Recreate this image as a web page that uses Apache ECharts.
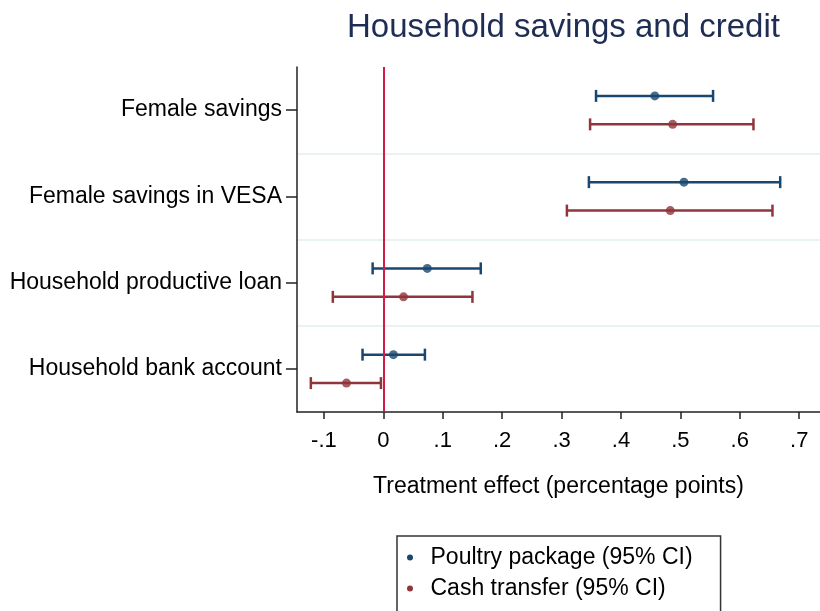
<!DOCTYPE html>
<html>
<head>
<meta charset="utf-8">
<script src="https://cdn.jsdelivr.net/npm/echarts@6/dist/echarts.min.js"></script>
<style>
  html, body { margin: 0; padding: 0; background: #fff; }
  #chart { width: 820px; height: 611px; }
</style>
</head>
<body>
<div id="chart"></div>
<script>
// rows, top to bottom
var categories = ['Female savings', 'Female savings in VESA', 'Household productive loan', 'Household bank account'];

// Poultry package: estimate and 95% CI
var poultryEst = [0.457, 0.506, 0.074, 0.017];
var poultryLo = [0.358, 0.346, -0.018, -0.035];
var poultryHi = [0.555, 0.668, 0.164, 0.070];

// Cash transfer: estimate and 95% CI
var cashEst = [0.487, 0.483, 0.034, -0.062];
var cashLo = [0.348, 0.309, -0.085, -0.122];
var cashHi = [0.623, 0.655, 0.150, -0.004];

var xTickValues = [-0.1, 0, 0.1, 0.2, 0.3, 0.4, 0.5, 0.6, 0.7];
var xTickLabels = ['-.1', '0', '.1', '.2', '.3', '.4', '.5', '.6', '.7'];

var seriesNames = ['Poultry package (95% CI)', 'Cash transfer (95% CI)'];

var FONT = '"Liberation Sans", Arial, sans-serif';
var NAVY = '#1a476f';
var MAROON = '#90353b';
var OFFSET = 0.165; // vertical shift of the two estimates inside a row

var n = categories.length;
// row i (from top) sits at value n - i on the hidden value axis
function rowY(i) { return n - i; }

function barData(lo, hi, shift) {
    return lo.map(function (v, i) { return [v, hi[i], rowY(i) + shift]; });
}
function pointData(est, shift) {
    return est.map(function (v, i) { return [v, rowY(i) + shift]; });
}

function renderBar(params, api) {
    var a = api.coord([api.value(0), api.value(2)]);
    var b = api.coord([api.value(1), api.value(2)]);
    var cap = 6;
    var style = { stroke: api.visual('color'), lineWidth: 2.5 };
    return {
        type: 'group',
        children: [
            { type: 'line', shape: { x1: a[0], y1: a[1], x2: b[0], y2: b[1] }, style: style },
            { type: 'line', shape: { x1: a[0], y1: a[1] - cap, x2: a[0], y2: a[1] + cap }, style: style },
            { type: 'line', shape: { x1: b[0], y1: b[1] - cap, x2: b[0], y2: b[1] + cap }, style: style }
        ]
    };
}

var myChart = echarts.init(document.getElementById('chart'));

var options = {
    animation: false,
    textStyle: { fontFamily: FONT },
    title: {
        text: 'Household savings and credit',
        left: 342,
        top: 6,
        textStyle: { fontFamily: FONT, fontSize: 33, fontWeight: 'normal', color: '#1e2d53' }
    },
    legend: {
        data: seriesNames,
        orient: 'vertical',
        left: 397,
        top: 536,
        height: 90,
        // bottom padding pushes the lower border below the page edge, as in the original
        padding: [10, 28, 30, 10],
        itemGap: 8,
        itemWidth: 7,
        itemHeight: 6,
        icon: 'circle',
        borderColor: '#333',
        borderWidth: 1.5,
        textStyle: { fontFamily: FONT, fontSize: 23, color: '#000', padding: [0, 0, 0, 12] }
    },
    grid: {
        left: 297,
        right: 0,
        top: 67,
        bottom: 199
    },
    xAxis: {
        type: 'value',
        min: -0.1453,
        max: 0.735,
        name: 'Treatment effect (percentage points)',
        nameLocation: 'middle',
        nameGap: 63,
        nameTextStyle: { fontFamily: FONT, fontSize: 23, color: '#000' },
        axisLine: { show: true, onZero: false, lineStyle: { color: '#222', width: 1.5 } },
        axisTick: { show: true, length: 7, customValues: xTickValues, lineStyle: { color: '#222', width: 1.5 } },
        axisLabel: {
            customValues: xTickValues,
            margin: 18,
            fontSize: 22,
            color: '#000',
            formatter: function (v) {
                for (var i = 0; i < xTickValues.length; i++) {
                    if (Math.abs(xTickValues[i] - v) < 1e-6) return xTickLabels[i];
                }
                return '';
            }
        },
        splitLine: { show: false }
    },
    yAxis: [
        {
            // labels, ticks and row separators
            type: 'category',
            data: categories.slice().reverse(),
            boundaryGap: true,
            axisLine: { show: true, onZero: false, lineStyle: { color: '#222', width: 1.5 } },
            axisTick: { show: true, alignWithLabel: true, length: 11, lineStyle: { color: '#222', width: 1.5 } },
            axisLabel: { margin: 15, fontSize: 23, color: '#000' },
            splitLine: { show: true, showMinLine: false, showMaxLine: false, lineStyle: { color: '#eaf2f3', width: 2 } }
        },
        {
            // hidden scale the marks are placed on
            type: 'value',
            min: 0.5,
            max: n + 0.5,
            show: false
        }
    ],
    series: [
        {
            name: seriesNames[0],
            type: 'custom',
            yAxisIndex: 1,
            z: 2,
            itemStyle: { color: NAVY },
            renderItem: renderBar,
            encode: { x: [0, 1], y: 2 },
            data: barData(poultryLo, poultryHi, OFFSET)
        },
        {
            name: seriesNames[1],
            type: 'custom',
            yAxisIndex: 1,
            z: 2,
            itemStyle: { color: MAROON },
            renderItem: renderBar,
            encode: { x: [0, 1], y: 2 },
            data: barData(cashLo, cashHi, -OFFSET)
        },
        {
            name: seriesNames[0],
            type: 'scatter',
            yAxisIndex: 1,
            z: 3,
            symbol: 'circle',
            symbolSize: 9,
            itemStyle: { color: NAVY },
            data: pointData(poultryEst, OFFSET)
        },
        {
            name: seriesNames[1],
            type: 'scatter',
            yAxisIndex: 1,
            z: 3,
            symbol: 'circle',
            symbolSize: 9,
            itemStyle: { color: MAROON },
            data: pointData(cashEst, -OFFSET),
            markLine: {
                silent: true,
                symbol: 'none',
                label: { show: false },
                lineStyle: { color: '#d01c46', width: 2, type: 'solid' },
                data: [{ xAxis: 0 }]
            }
        }
    ]
};

myChart.setOption(options);
</script>
</body>
</html>
